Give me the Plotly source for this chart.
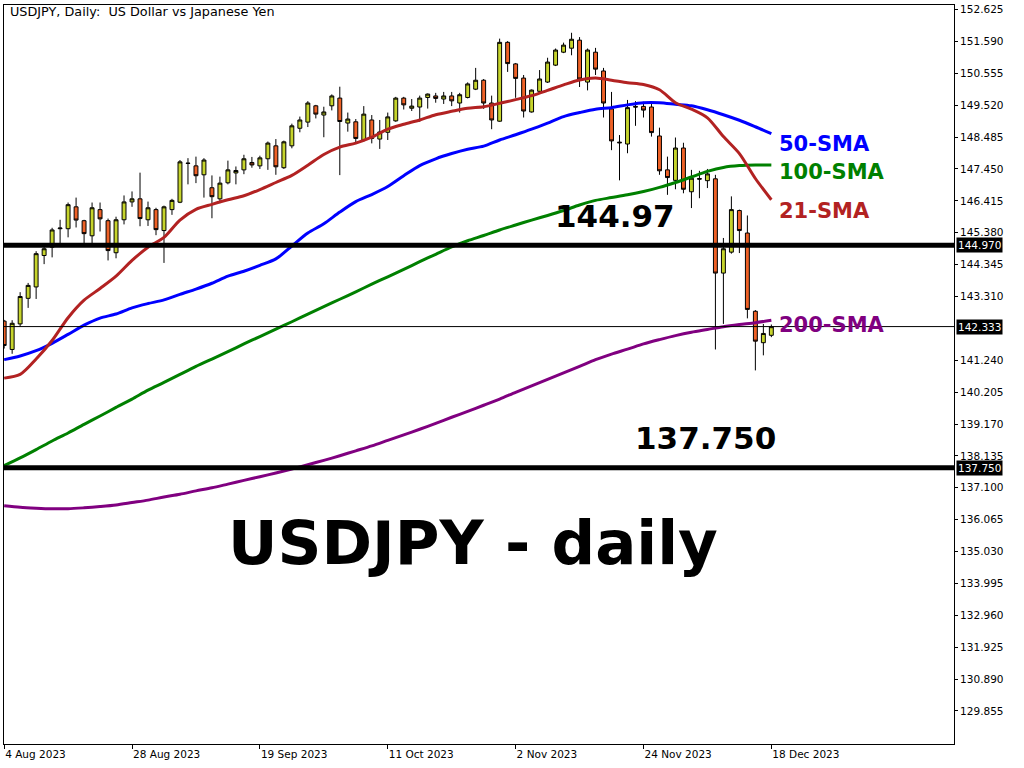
import plotly.graph_objects as go
import pandas as pd

# ---------------- data ----------------
dates = [d.strftime('%Y-%m-%d') for d in pd.bdate_range('2023-08-04', '2023-12-18')]

open_ = [142.51, 141.59, 142.42, 143.25, 143.62, 144.64, 144.91, 145.51, 145.51, 146.22,
         145.77, 145.28, 146.13, 145.77, 144.73, 145.80, 146.38, 146.48, 145.80, 146.13,
         145.45, 146.13, 146.37, 147.64, 147.55, 147.26, 146.84, 146.48, 147.00, 147.32,
         147.42, 147.66, 147.55, 147.78, 148.20, 147.49, 148.20, 148.77, 148.97, 149.50,
         149.20, 149.50, 149.75, 148.94, 148.98, 148.39, 149.04, 148.42, 148.64, 149.01,
         149.75, 149.42, 149.46, 149.77, 149.82, 149.72, 149.82, 149.59, 149.77, 150.04,
         150.33, 149.59, 149.00, 151.56, 150.86, 150.40, 149.30, 149.97, 150.27, 150.82,
         151.24, 151.37, 151.63, 150.27, 151.24, 150.63, 149.40, 148.32, 148.26, 149.48,
         149.48, 149.46, 148.52, 147.42, 147.08, 148.13, 146.71, 147.14, 147.07, 147.13,
         144.07, 144.75, 146.10, 145.37, 142.83, 141.81, 142.05]
high = [142.55, 142.54, 143.45, 143.75, 144.78, 144.99, 145.54, 145.80, 146.36, 146.52,
        145.80, 146.36, 146.36, 145.84, 145.90, 146.59, 146.72, 147.33, 146.39, 146.19,
        146.26, 146.48, 147.74, 147.80, 147.85, 147.80, 147.24, 147.20, 147.72, 147.53,
        147.91, 147.84, 147.88, 148.34, 148.42, 148.37, 148.92, 149.15, 149.65, 149.53,
        149.47, 149.87, 150.12, 149.28, 149.07, 149.49, 149.20, 149.04, 149.28, 149.79,
        149.79, 149.72, 149.83, 149.90, 149.92, 149.95, 149.95, 149.92, 150.26, 150.73,
        150.37, 149.83, 151.68, 151.60, 150.89, 150.50, 150.03, 150.66, 151.06, 151.36,
        151.55, 151.87, 151.73, 151.36, 151.38, 150.73, 149.95, 148.55, 149.69, 149.65,
        149.63, 149.63, 148.79, 147.85, 148.47, 148.30, 147.42, 147.39, 147.45, 147.26,
        145.21, 146.56, 146.13, 145.94, 142.87, 142.42, 142.40]
low = [141.62, 141.45, 142.33, 142.94, 143.23, 144.36, 144.58, 145.03, 145.23, 145.55,
       144.97, 144.99, 145.42, 144.48, 144.55, 145.65, 146.22, 145.59, 145.60, 145.30,
       144.40, 145.96, 146.34, 146.95, 146.99, 146.52, 145.85, 146.34, 146.95, 146.95,
       147.28, 147.49, 147.45, 147.42, 147.26, 147.45, 148.12, 148.64, 148.81, 149.09,
       148.48, 149.35, 147.25, 148.66, 148.28, 148.34, 148.28, 148.10, 148.39, 148.98,
       149.38, 149.33, 148.98, 149.41, 149.60, 149.56, 149.49, 149.28, 149.74, 150.01,
       149.40, 148.74, 148.98, 150.60, 149.76, 149.12, 149.28, 149.93, 150.24, 150.79,
       151.21, 151.14, 150.11, 150.00, 150.50, 149.12, 148.06, 147.08, 147.96, 148.85,
       149.12, 148.50, 147.26, 146.61, 146.79, 146.66, 146.18, 146.50, 146.83, 141.59,
       142.42, 144.70, 144.72, 142.60, 140.91, 141.40, 141.99]
close = [141.72, 142.44, 143.31, 143.67, 144.70, 144.86, 145.47, 145.53, 146.29, 145.79,
         145.35, 146.19, 145.83, 144.80, 145.80, 146.38, 146.48, 145.84, 146.19, 145.48,
         146.22, 146.43, 147.68, 147.63, 147.23, 147.74, 146.55, 146.99, 147.42, 147.40,
         147.78, 147.58, 147.81, 148.29, 147.52, 148.33, 148.85, 149.04, 149.59, 149.23,
         149.30, 149.82, 148.99, 149.07, 148.44, 149.23, 148.44, 148.65, 149.14, 149.75,
         149.53, 149.49, 149.75, 149.88, 149.74, 149.82, 149.66, 149.86, 150.21, 150.33,
         149.59, 149.04, 151.56, 150.87, 150.39, 149.33, 150.01, 150.37, 150.92, 151.31,
         151.47, 151.66, 150.37, 151.31, 150.69, 149.59, 148.36, 148.30, 149.44, 149.46,
         149.36, 148.63, 147.39, 147.17, 148.13, 146.79, 147.15, 147.12, 147.29, 144.07,
         144.86, 146.13, 145.45, 142.89, 141.86, 142.11, 142.33]

# moving averages read every second bar
sma_dates = dates[::2]
sma21 = [140.66, 140.78, 141.28, 141.88, 142.62, 143.19, 143.57, 143.97, 144.48, 144.91,
         145.23, 145.79, 146.14, 146.30, 146.45, 146.58, 146.78, 147.01, 147.24, 147.57,
         147.92, 148.16, 148.29, 148.48, 148.74, 148.90, 149.04, 149.21, 149.32, 149.42,
         149.47, 149.58, 149.70, 149.83, 150.00, 150.18, 150.34, 150.40, 150.33, 150.25,
         150.19, 150.02, 149.60, 149.39, 149.11, 148.50, 147.95, 147.14, 146.45]
sma50 = [141.26, 141.38, 141.55, 141.79, 142.08, 142.38, 142.61, 142.74, 142.94, 143.08,
         143.20, 143.38, 143.55, 143.74, 143.97, 144.13, 144.32, 144.53, 144.95, 145.37,
         145.67, 146.05, 146.39, 146.62, 146.88, 147.23, 147.56, 147.78, 147.95, 148.09,
         148.19, 148.39, 148.56, 148.74, 148.94, 149.15, 149.28, 149.39, 149.44, 149.53,
         149.60, 149.60, 149.55, 149.50, 149.37, 149.21, 149.03, 148.82, 148.60]
sma100 = [137.82, 138.07, 138.34, 138.62, 138.88, 139.16, 139.43, 139.71, 139.98, 140.27,
          140.52, 140.78, 141.04, 141.28, 141.52, 141.77, 142.01, 142.25, 142.49, 142.74,
          142.98, 143.22, 143.46, 143.71, 143.95, 144.19, 144.44, 144.68, 144.92, 145.12,
          145.29, 145.47, 145.63, 145.79, 145.94, 146.10, 146.28, 146.43, 146.52, 146.61,
          146.72, 146.85, 147.01, 147.19, 147.37, 147.50, 147.56, 147.58, 147.58]
sma200 = [136.52, 136.47, 136.44, 136.42, 136.42, 136.45, 136.49, 136.54, 136.62, 136.70,
          136.80, 136.89, 137.00, 137.10, 137.22, 137.34, 137.46, 137.58, 137.71, 137.85,
          137.99, 138.14, 138.30, 138.46, 138.64, 138.82, 139.00, 139.19, 139.39, 139.58,
          139.78, 139.98, 140.20, 140.41, 140.62, 140.83, 141.04, 141.26, 141.44, 141.60,
          141.77, 141.91, 142.04, 142.15, 142.24, 142.33, 142.40, 142.46, 142.54]

level_hi = 144.97
level_lo = 137.75
last_price = 142.333

y_ticks = [152.625, 151.590, 150.555, 149.520, 148.485, 147.450, 146.415, 145.380,
           144.345, 143.310, 141.240, 140.205, 139.170, 138.135, 137.100, 136.065,
           135.030, 133.995, 132.960, 131.925, 130.890, 129.855]
x_tick_dates = ['2023-08-04', '2023-08-28', '2023-09-19', '2023-10-11',
                '2023-11-02', '2023-11-24', '2023-12-18']
x_tick_text = ['4 Aug 2023', '28 Aug 2023', '19 Sep 2023', '11 Oct 2023',
               '2 Nov 2023', '24 Nov 2023', '18 Dec 2023']

# ---------------- figure ----------------
W, H = 1024, 768
ML, MR, MT, MB = 3, 70, 3, 24
PW, PH = W - ML - MR, H - MT - MB
X0 = -0.02  # category position at left edge of plot area


def px(x):
    return (x - ML) / PW


def py(y):
    return (H - MB - y) / PH


UP = '#C6D42C'
DOWN = '#EE6126'

fig = go.Figure()
fig.add_trace(go.Candlestick(
    x=dates, open=open_, high=high, low=low, close=close,
    increasing=dict(fillcolor=UP, line=dict(color='black', width=1)),
    decreasing=dict(fillcolor=DOWN, line=dict(color='black', width=1)),
    whiskerwidth=0, hoverinfo='skip'))

for vals, col in [(sma200, '#800080'), (sma100, '#008000'),
                  (sma50, '#0000FF'), (sma21, '#B22222')]:
    fig.add_trace(go.Scatter(x=sma_dates, y=vals, mode='lines',
                             line=dict(color=col, width=3, shape='spline', smoothing=0.8),
                             hoverinfo='skip'))

shapes = [
    dict(type='line', xref='paper', x0=0, x1=1, yref='y', y0=level_hi, y1=level_hi,
         line=dict(color='black', width=5)),
    dict(type='line', xref='paper', x0=0, x1=1, yref='y', y0=level_lo, y1=level_lo,
         line=dict(color='black', width=5)),
    dict(type='line', xref='paper', x0=0, x1=1, yref='y', y0=last_price, y1=last_price,
         line=dict(color='black', width=1)),
]

BIG = 'DejaVu Sans'
annotations = [
    dict(xref='paper', yref='paper', x=px(7), y=py(10), xanchor='left', yanchor='middle',
         text='USDJPY, Daily:\u00a0 US Dollar vs Japanese Yen', showarrow=False,
         font=dict(family='DejaVu Sans', size=12.8, color='black')),
    dict(xref='paper', yref='paper', x=px(615), y=py(215), xanchor='center', yanchor='middle',
         text='<b>144.97</b>', showarrow=False, font=dict(family=BIG, size=31, color='black')),
    dict(xref='paper', yref='paper', x=px(705.5), y=py(437), xanchor='center', yanchor='middle',
         text='<b>137.750</b>', showarrow=False, font=dict(family=BIG, size=31, color='black')),
    dict(xref='paper', yref='paper', x=px(472), y=py(542), xanchor='center', yanchor='middle',
         text='<b>USDJPY - daily</b>', showarrow=False, font=dict(family=BIG, size=61, color='black')),
]
for txt, col, ypix in [('50-SMA', '#0000FF', 142), ('100-SMA', '#008000', 170),
                       ('21-SMA', '#B22222', 210), ('200-SMA', '#800080', 324)]:
    annotations.append(dict(xref='paper', yref='paper', x=px(777), y=py(ypix),
                            xanchor='left', yanchor='middle', text=f'<b>{txt}</b>',
                            showarrow=False, font=dict(family=BIG, size=21, color=col)))
for lv in [level_hi, last_price, level_lo]:
    annotations.append(dict(xref='paper', yref='y', x=1, y=lv, xanchor='left', yanchor='middle',
                            xshift=2, text=f'{lv:.3f}', showarrow=False, bgcolor='black',
                            borderpad=1,
                            font=dict(family='DejaVu Sans', size=10.5, color='white')))

fig.update_layout(
    width=W, height=H, margin=dict(l=ML, r=MR, t=MT, b=MB, pad=0),
    paper_bgcolor='white', plot_bgcolor='white', showlegend=False,
    font=dict(family='DejaVu Sans', size=10.5, color='black'),
    boxgap=0.3, shapes=shapes, annotations=annotations,
)
fig.update_xaxes(type='category', range=[X0, X0 + PW / 8], tickmode='array',
                 tickvals=x_tick_dates, ticktext=x_tick_text, ticks='outside', ticklen=4,
                 tickcolor='black', showline=True, linecolor='black', linewidth=1, mirror=True,
                 showgrid=False, zeroline=False, rangeslider_visible=False,
                 ticklabelposition='outside right', tickfont=dict(size=10.5))
fig.update_yaxes(side='right', range=[144.97 - (H - MB - 244) / 30.89, 144.97 + (244 - MT) / 30.89],
                 tickmode='array', tickvals=y_ticks, ticktext=[f'{v:.3f}' for v in y_ticks],
                 ticks='outside', ticklen=3, tickcolor='black', showline=True, linecolor='black',
                 linewidth=1, mirror=True, showgrid=False, zeroline=False,
                 tickfont=dict(size=10.5))

fig.write_html('out.html', config={'displayModeBar': False},
               post_script="document.body.style.margin='0';")
